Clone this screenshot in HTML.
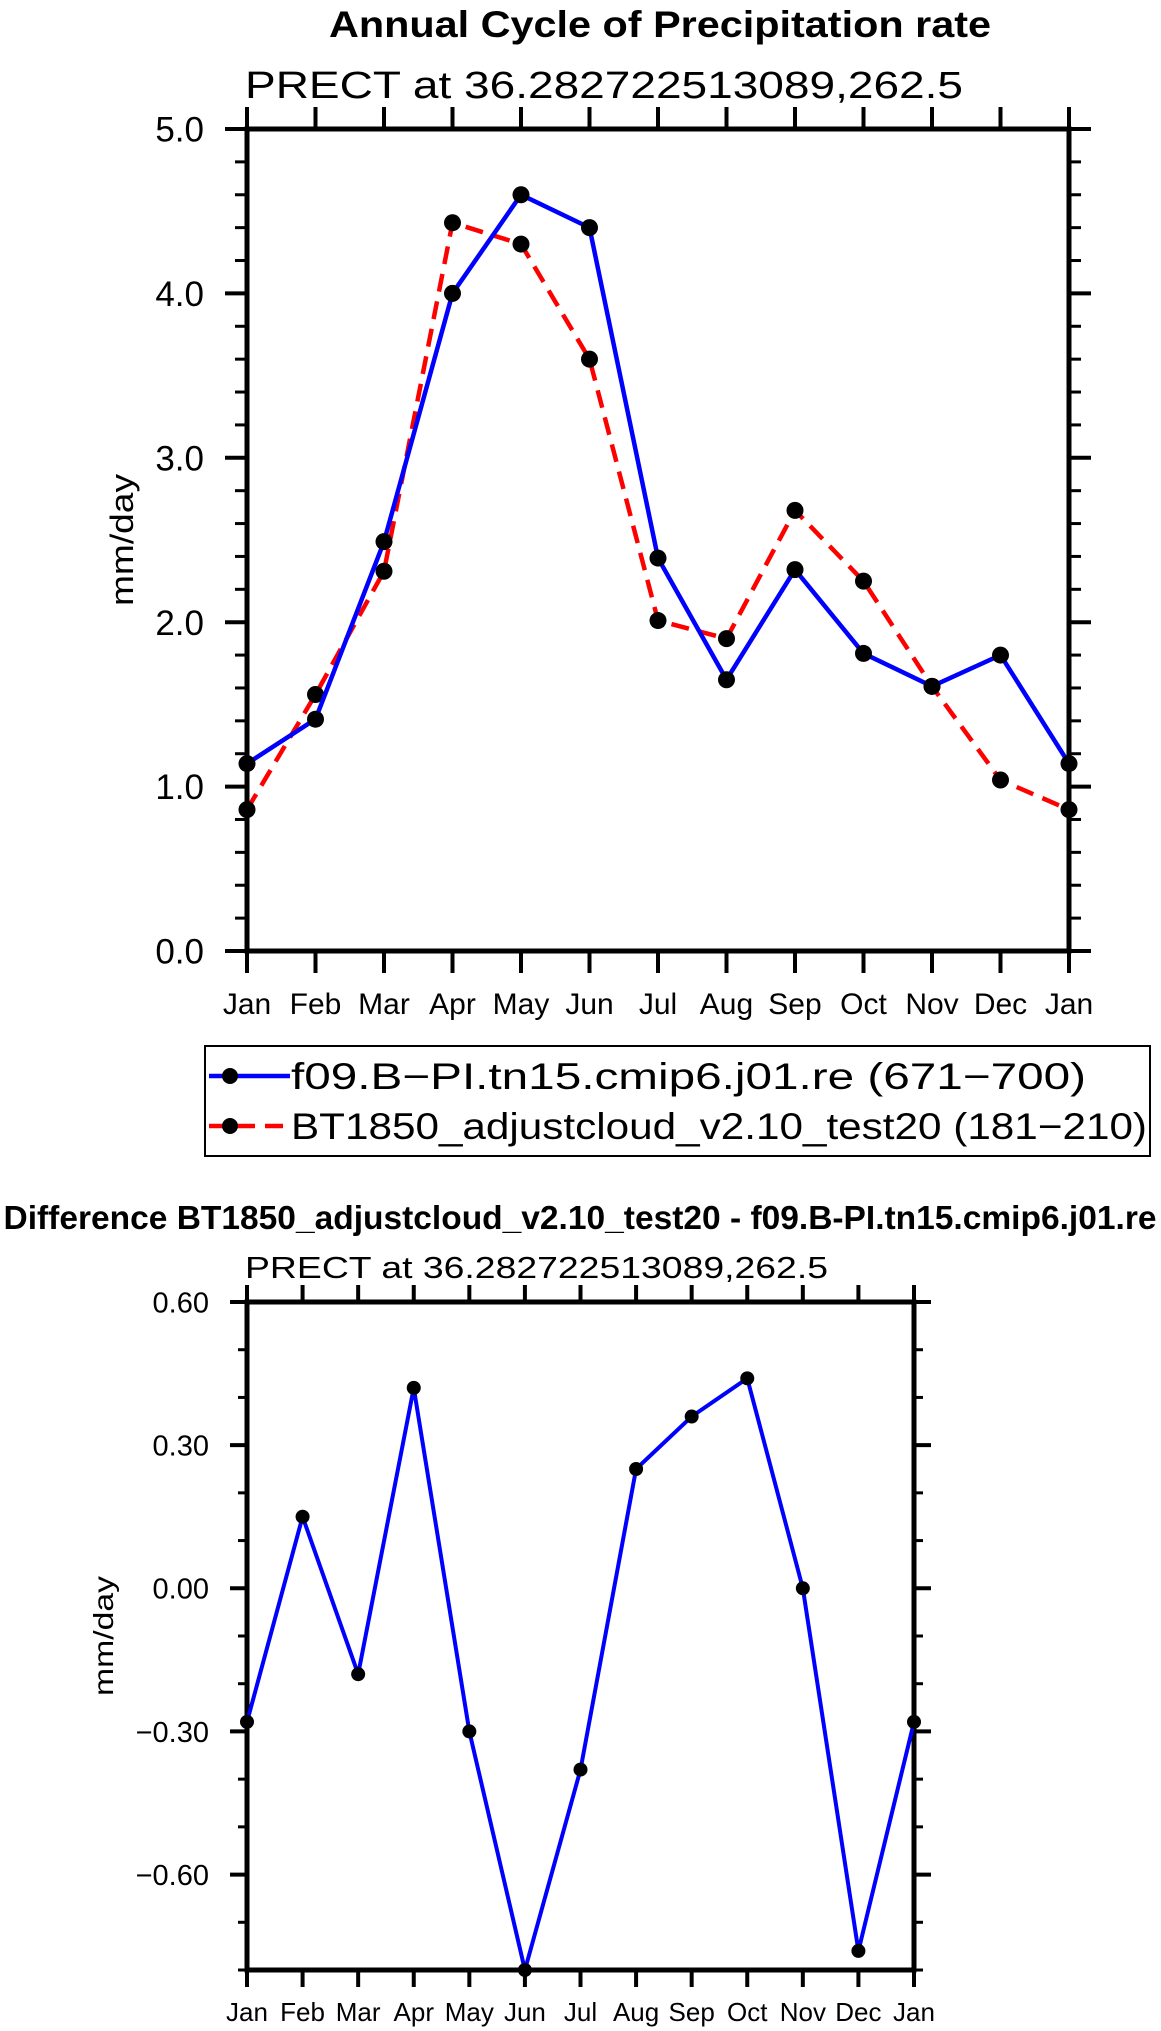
<!DOCTYPE html>
<html><head><meta charset="utf-8"><style>
html,body{margin:0;padding:0;background:#fff;}
svg{display:block;font-family:"Liberation Sans",sans-serif;}
</style></head><body>
<svg id="svg" width="1161" height="2031" viewBox="0 0 1161 2031" xmlns="http://www.w3.org/2000/svg">
<g id="top"></g>
<g id="bot"></g>
</svg>
<script>
const months = ["Jan","Feb","Mar","Apr","May","Jun","Jul","Aug","Sep","Oct","Nov","Dec","Jan"];
const blueValues = [1.14,1.41,2.49,4.00,4.60,4.40,2.39,1.65,2.32,1.81,1.61,1.80,1.14];
const redValues = [0.86,1.56,2.31,4.43,4.30,3.60,2.01,1.90,2.68,2.25,1.61,1.04,0.86];
const diffValues = [-0.28,0.15,-0.18,0.42,-0.30,-0.80,-0.38,0.25,0.36,0.44,0.00,-0.76,-0.28];
const topTicks = ["0.0","1.0","2.0","3.0","4.0","5.0"];
const botTicks = ["-0.60","-0.30","0.00","0.30","0.60"];
const legendLabels = ["f09.B\u2212PI.tn15.cmip6.j01.re (671\u2212700)","BT1850_adjustcloud_v2.10_test20 (181\u2212210)"];

const NS="http://www.w3.org/2000/svg";
function mk(parent,tag,attrs,text){const e=document.createElementNS(NS,tag);for(const k in attrs)e.setAttribute(k,attrs[k]);if(text!==undefined)e.textContent=text;parent.appendChild(e);return e;}

function drawChart(g,o){
  const xs=i=>o.x0+(o.x1-o.x0)*i/(months.length-1);
  const ys=v=>o.y1-(v-o.vmin)/(o.vmax-o.vmin)*(o.y1-o.y0);
  if(o.title){const t=mk(g,'text',{x:o.titleX,y:o.titleY,'font-size':o.titleSize,'font-weight':'bold','text-anchor':'middle',textLength:o.titleLen,lengthAdjust:'spacingAndGlyphs'},o.title);
  
  }
  const st=mk(g,'text',{x:o.x0-2,y:o.subY,'font-size':o.subSize,textLength:o.subLen,lengthAdjust:'spacingAndGlyphs'},"PRECT at 36.282722513089,262.5");
  
  
  for(let v=o.vmin;v<=o.vmax+1e-9;v+=o.minor){
    const y=ys(v);
    const l=mk(g,'line',{x1:o.x0-o.mn,x2:o.x0,y1:y,y2:y,stroke:'#000','stroke-width':3});
    
    
    const r=mk(g,'line',{x1:o.x1,x2:o.x1+o.mn,y1:y,y2:y,stroke:'#000','stroke-width':3});
    
    
  }
  o.ticks.forEach(lbl=>{
    const v=parseFloat(lbl),y=ys(v);
    const l=mk(g,'line',{x1:o.x0-o.mj,x2:o.x0,y1:y,y2:y,stroke:'#000','stroke-width':4});
    
    
    const r=mk(g,'line',{x1:o.x1,x2:o.x1+o.mj,y1:y,y2:y,stroke:'#000','stroke-width':4});
    
    
    const t=mk(g,'text',{x:o.x0-o.mj-21,y:y+o.ySize*0.36,'font-size':o.ySize,'text-anchor':'end'},lbl.replace('-','\u2212'));
    
    
  });
  months.forEach((m,i)=>{
    const x=xs(i);
    const a=mk(g,'line',{x1:x,x2:x,y1:o.y0-o.mj,y2:o.y0,stroke:'#000','stroke-width':4});
    
    
    const b=mk(g,'line',{x1:x,x2:x,y1:o.y1,y2:o.y1+o.mj,stroke:'#000','stroke-width':4});
    
    
    const t=mk(g,'text',{x:x,y:o.xLabY,'font-size':o.xSize,'text-anchor':'middle'},m);
    
    
  });
  const fr=mk(g,'rect',{x:o.x0,y:o.y0,width:o.x1-o.x0,height:o.y1-o.y0,fill:'none',stroke:'#000','stroke-width':5});
  
  
  const yt=mk(g,'text',{x:0,y:0,'font-size':o.ytSize,'text-anchor':'middle',textLength:o.ytLen,lengthAdjust:'spacingAndGlyphs',transform:`translate(${o.ytX},${(o.y0+o.y1)/2}) rotate(-90)`},"mm/day");
  
  
  o.series.forEach(s=>{
    const pts=s.vals.map((v,i)=>xs(i)+','+ys(v)).join(' ');
    const p=mk(g,'polyline',{points:pts,fill:'none',stroke:s.color,'stroke-width':o.lw,'stroke-dasharray':s.dash||'none'});
    
    
    s.vals.forEach((v,i)=>{
      const c=mk(g,'circle',{cx:xs(i),cy:ys(v),r:o.mr,fill:'#000'});
      
      
    });
  });
}

drawChart(document.getElementById('top'),{
  x0:247,x1:1069,y0:129,y1:951,vmin:0,vmax:5,minor:0.2,ticks:topTicks,mj:22,mn:12,
  title:"Annual Cycle of Precipitation rate",titleX:660,titleY:37,titleSize:37,titleLen:662,
  subY:98,subSize:38,subLen:718,ySize:35,xSize:30,xLabY:1014,ytX:133,ytSize:32,ytLen:132,mr:8.5,lw:4.5,
  series:[{name:'red-series',vals:redValues,color:'#ff0000',dash:'18 10'},{name:'blue-series',vals:blueValues,color:'#0000ff'}]
});
drawChart(document.getElementById('bot'),{
  x0:247,x1:914,y0:1302,y1:1970,vmin:-0.8,vmax:0.6,minor:0.1,ticks:botTicks,mj:17,mn:9,
  title:"Difference BT1850_adjustcloud_v2.10_test20 - f09.B-PI.tn15.cmip6.j01.re",titleX:580,titleY:1229,titleSize:33,titleLen:1153,
  subY:1278,subSize:31,subLen:583,ySize:29,xSize:26,xLabY:2021,ytX:113,ytSize:28,ytLen:120,mr:7,lw:4,
  series:[{name:'diff-series',vals:diffValues,color:'#0000ff'}]
});

const svg=document.getElementById('svg');
const lg=mk(svg,'g',{});


const box=mk(lg,'rect',{x:205,y:1046,width:945,height:110,fill:'#fff',stroke:'#000','stroke-width':2});


const legColors=['#0000ff','#ff0000'];
const legDash=['none','18 10'];
legendLabels.forEach((lbl,i)=>{
  const y=1076+i*50;
  const e=mk(lg,'g',{});
  
  
  mk(e,'line',{x1:209,x2:290,y1:y,y2:y,stroke:legColors[i],'stroke-width':4.5,'stroke-dasharray':legDash[i]});
  mk(e,'circle',{cx:230,cy:y,r:8,fill:'#000'});
  const t=mk(e,'text',{x:291,y:y+13,'font-size':37,textLength:i==0?(1086-291):(1147-291),lengthAdjust:'spacingAndGlyphs'},lbl);
  
  
});
</script>
</body></html>
